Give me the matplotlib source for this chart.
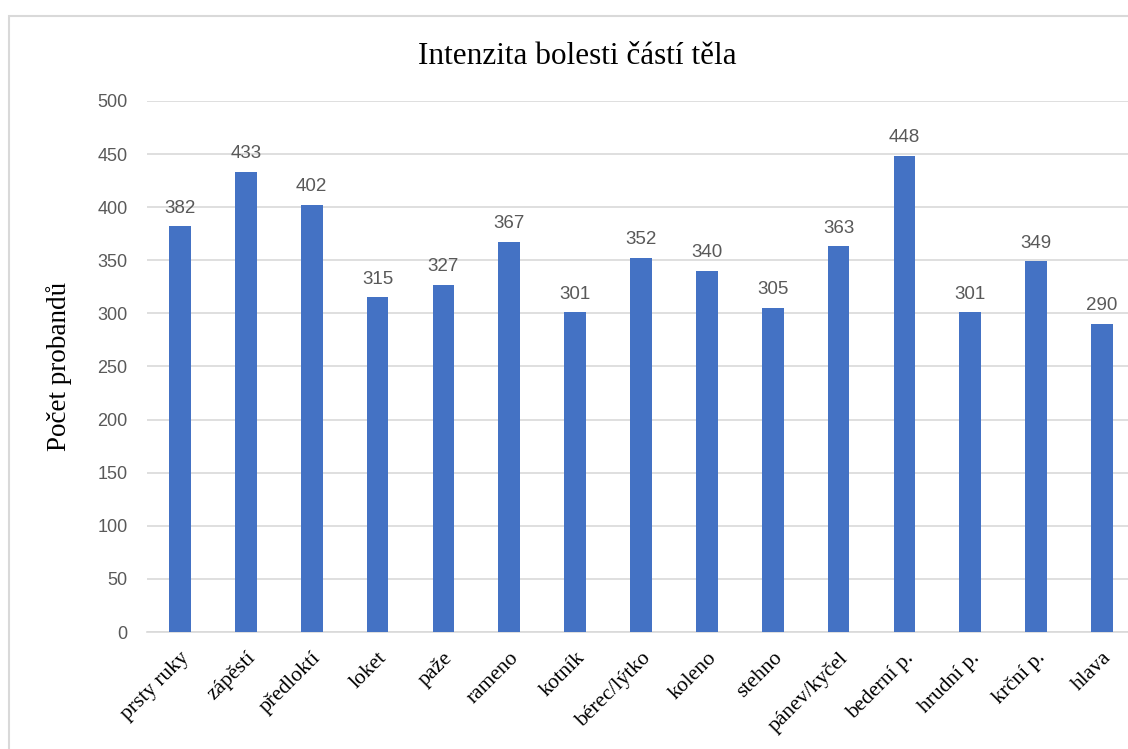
import numpy as np
import matplotlib.pyplot as plt
from matplotlib.patches import Rectangle

# data
casti = ["prsty ruky", "zápěstí", "předloktí", "loket", "paže", "rameno", "kotník",
         "bérec/lýtko", "koleno", "stehno", "pánev/kyčel", "bederní p.", "hrudní p.",
         "krční p.", "hlava"]
pocet = [382, 433, 402, 315, 327, 367, 301, 352, 340, 305, 363, 448, 301, 349, 290]
y_ticks = [0, 50, 100, 150, 200, 250, 300, 350, 400, 450, 500]

serif = ["Liberation Serif", "DejaVu Serif"]
sans = ["Liberation Sans", "DejaVu Sans"]

fig = plt.figure(figsize=(11.28, 7.49), dpi=100)
ax = fig.add_axes([0.1303, 0.1562, 0.8759, 0.709])

# outer chart frame (cut off at right and bottom)
fig.patches.append(Rectangle((9 / 1128, -0.1), 1.2, 1 - 16 / 749 + 0.1, transform=fig.transFigure,
                             fill=False, edgecolor="#d9d9d9", lw=1.5))

x = np.arange(len(casti))
bars = ax.bar(x, pocet, width=0.33, color="#4472C4", zorder=3)

for xi, v in zip(x, pocet):
    ax.annotate(str(v), (xi, v), xytext=(0, 7), textcoords="offset points",
                ha="center", va="bottom", fontsize=13.5, color="#595959", family=sans)

ax.set_xlim(-0.5, len(casti) - 0.5)
ax.set_ylim(0, 500)
ax.set_yticks(y_ticks)
ax.yaxis.grid(True, color="#d9d9d9", lw=1.2, zorder=0)
ax.tick_params(axis="y", length=0, pad=14, labelsize=13, labelcolor="#595959")
for lab in ax.get_yticklabels():
    lab.set_family(sans)

ax.set_xticks(x)
ax.set_xticklabels(casti, rotation=45, ha="right", rotation_mode="anchor",
                   fontsize=15.5, family=serif)
ax.tick_params(axis="x", length=0, pad=12)

for s in ["top", "right", "left"]:
    ax.spines[s].set_visible(False)
ax.spines["bottom"].set_color("#d9d9d9")
ax.spines["bottom"].set_linewidth(1.2)

fig.text(0.512, 0.925, "Intenzita bolesti částí těla", ha="center", va="center",
         fontsize=22.5, family=serif)
ax.set_ylabel("Počet probandů", fontsize=19.5, family=serif, labelpad=18)

plt.savefig("out.png", dpi=100)
